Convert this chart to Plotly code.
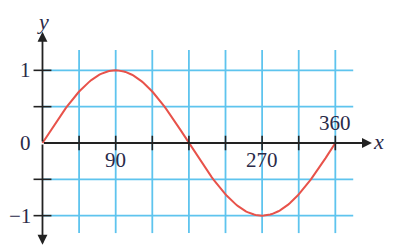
import numpy as np
import plotly.graph_objects as go

# Data
x_deg = np.arange(0, 361, 2)
y_sin = np.sin(np.radians(x_deg))
x_grid = [45, 90, 135, 180, 225, 270, 315, 360]
y_grid = [-1, -0.5, 0.5, 1]
x_tick_labels = {90: "90", 270: "270", 360: "360"}
y_tick_labels = {1: "1", 0: "0", -1: "\u22121"}

# page body has an 8px margin, so the figure is 8px smaller on each side
XR = [-42.4, 430.9]
YR = [-1.4315, 1.858]
GRID_TOP, GRID_BOT, GRID_RIGHT = 1.28, -1.24, 382

fig = go.Figure()

gx, gy = [], []
for xv in x_grid:
    gx += [xv, xv, None]
    gy += [GRID_BOT, GRID_TOP, None]
for yv in y_grid:
    gx += [0, GRID_RIGHT, None]
    gy += [yv, yv, None]
fig.add_trace(go.Scatter(x=gx, y=gy, mode="lines",
                         line=dict(color="#5EC4EE", width=1.8),
                         hoverinfo="skip", showlegend=False))

fig.add_trace(go.Scatter(x=x_deg, y=y_sin, mode="lines",
                         line=dict(color="#E8524A", width=2),
                         showlegend=False))

# tick marks
tx, ty = [], []
for xv in x_grid:
    tx += [xv, xv, None]
    ty += [-0.1, 0.1, None]
for yv in y_grid:
    tx += [-11, 11, None]
    ty += [yv, yv, None]
fig.add_trace(go.Scatter(x=tx, y=ty, mode="lines",
                         line=dict(color="#222222", width=1.6),
                         hoverinfo="skip", showlegend=False))

anns = []
# axes with arrows
for (tipx, tipy) in [(0, 1.53), (0, -1.40), (405, 0)]:
    anns.append(dict(x=tipx, y=tipy, ax=0, ay=0, xref="x", yref="y",
                     axref="x", ayref="y", showarrow=True, arrowhead=2,
                     arrowsize=1.1, arrowwidth=1.8, arrowcolor="#222222", text=""))

font = dict(family="Liberation Serif", size=21, color="#2a2a48")
for xv, t in x_tick_labels.items():
    if xv == 360:
        anns.append(dict(x=xv, y=0.275, text=t, showarrow=False, font=font))
    else:
        anns.append(dict(x=xv, y=-0.234, text=t, showarrow=False, font=font))
for yv, t in y_tick_labels.items():
    anns.append(dict(x=-12, y=yv, text=t, showarrow=False, font=font,
                     xanchor="right"))
ifont = dict(family="Liberation Serif", size=22, color="#2a2a48")
anns.append(dict(x=0.5, y=YR[1], text="<i>y</i>", showarrow=False, font=ifont,
                 yanchor="top", borderpad=0))
anns.append(dict(x=413, y=0.02, text="<i>x</i>", showarrow=False, font=ifont,
                 borderpad=0))

fig.update_layout(
    width=385, height=239, margin=dict(l=0, r=0, t=0, b=0),
    paper_bgcolor="white", plot_bgcolor="white",
    xaxis=dict(range=XR, visible=False, fixedrange=True),
    yaxis=dict(range=YR, visible=False, fixedrange=True),
    annotations=anns,
)
fig.write_html("out.html")
